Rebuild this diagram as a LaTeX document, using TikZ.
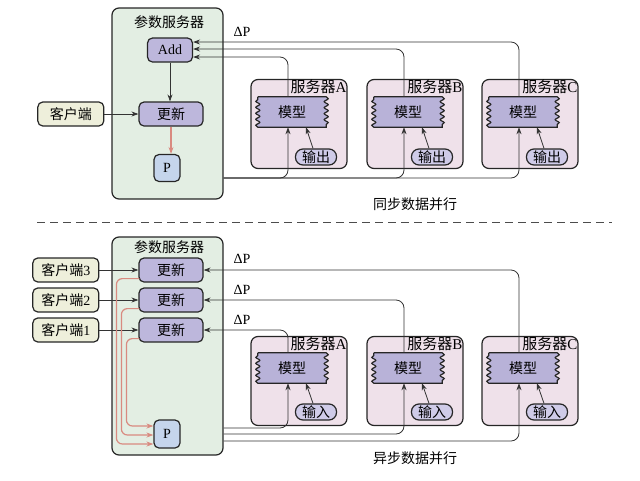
\documentclass[tikz,border=0pt]{standalone}
\usepackage{fontspec}
\setmainfont{Liberation Serif}
\newfontfamily\cjk{Noto Sans CJK SC}
\usetikzlibrary{positioning, arrows.meta, decorations.pathmorphing}
\newcommand{\zh}[1]{{\cjk #1}}

\definecolor{psfill}{HTML}{E3EEE3}
\definecolor{srvfill}{HTML}{EFE1EA}
\definecolor{clifill}{HTML}{EEEFDB}
\definecolor{opfill}{HTML}{BDB7DC}
\definecolor{modelfill}{HTML}{B8B2D8}
\definecolor{pfill}{HTML}{C5D5EC}
\definecolor{pillfill}{HTML}{CFCBE8}
\definecolor{redline}{HTML}{D98A80}

\pgfdeclarelayer{back}
\pgfdeclarelayer{mid}
\pgfsetlayers{back,mid,main}

\tikzset{
  >={Stealth[length=7pt,width=5pt]},
  x=1pt, y=-1pt,
  every node/.style={font=\fontsize{14}{16}\selectfont},
  box/.style={draw=black!85, line width=1.2pt, rounded corners=5pt, inner sep=0pt},
  psbox/.style={box, fill=psfill, rounded corners=7pt, minimum width=111pt},
  srv/.style={box, fill=srvfill, minimum width=96pt, minimum height=89pt, rounded corners=7pt},
  op/.style={box, fill=opfill, minimum width=64pt, minimum height=24pt},
  client/.style={box, fill=clifill, minimum width=66pt, minimum height=24pt},
  pbox/.style={box, fill=pfill, minimum width=26pt, minimum height=27pt},
  model/.style={inner sep=0pt, minimum width=68pt, minimum height=30pt},
  pill/.style={box, fill=pillfill, minimum width=41pt, minimum height=16pt, rounded corners=7.5pt},
  lbl/.style={anchor=north east, inner sep=1pt, font=\fontsize{15}{17}\selectfont},
  wire/.style={draw=black!80, line width=0.8pt, rounded corners=8pt},
  upd/.style={draw=redline, line width=1.2pt, rounded corners=6pt, ->, >={Stealth[length=7pt,width=5pt,fill=redline]}},
  wavy/.style={draw=black!85, line width=1.2pt, fill=modelfill,
    decoration={snake, amplitude=2pt, segment length=6pt}},
  sep/.style={draw=black!70, line width=0.9pt, dash pattern=on 8pt off 5pt},
}

\begin{document}
\begin{tikzpicture}
  \useasboundingbox (0,0) rectangle (640,480);

  % synchronous: parameter server
  \node[psbox, minimum height=191pt] (ps1) at (167.5,103.5) {};
  \node (t1) at (169,22) {\zh{参数服务器}};
  \node[op, minimum width=45pt] (add) at (170,50) {Add};
  \node[op] (upd) at (171,114) {\zh{更新}};
  \node[pbox] (p1) at (167,168) {P};
  \node[client, left=34pt of upd] (cli) {\zh{客户端}};

  % synchronous: servers
  \foreach \s/\x/\n in {a/299/A, b/415/B, c/530/C} {
    \begin{pgfonlayer}{back}
      \node[srv] (s\s1) at (\x,124) {};
    \end{pgfonlayer}
    \node[lbl] (l\s1) at (s\s1.north east) {\zh{服务器}\n};
    \node[model] (m\s1) at (\x-7,112) {\zh{模型}};
    \node[pill] (o\s1) at (\x+17,157) {\zh{输出}};
    \draw[wire,->] ([xshift=-3pt]o\s1.north) -- ([xshift=14pt]m\s1.south);
  }

  % synchronous: transitions
  \draw[wire,->] (cli) -- (upd);
  \draw[wire,->] (add) -- (add |- upd.north);
  \draw[upd] (upd.south) -- (upd.south |- p1.north);
  \node (dp1) at (242,32) {ΔP};
  \draw[wire,<-] ([yshift=8pt]add.east) -| ([xshift=-4pt]mc1.north);
  \draw[wire,<-] ([yshift=1pt]add.east) -| ([xshift=-4pt]mb1.north);
  \draw[wire,<-] ([yshift=-7pt]add.east) -| ([xshift=-4pt]ma1.north);
  \draw[wire,->] ([yshift=-74.5pt]ps1.east) -| ([xshift=-4pt]ma1.south);
  \draw[wire,->] ([yshift=-74.5pt]ps1.east) -| ([xshift=-4pt]mb1.south);
  \draw[wire,->] ([yshift=-74.5pt]ps1.east) -| ([xshift=-4pt]mc1.south);
  \node (cap1) at (415,204) {\zh{同步数据并行}};

  \draw[sep] (37,222) -- (612,222);

  % asynchronous: parameter server
  \node[psbox, minimum height=218pt] (ps2) at (167.5,346) {};
  \node (t2) at (169,247) {\zh{参数服务器}};
  \node[op] (u3) at (171,270) {\zh{更新}};
  \node[op] (u2) at (171,300) {\zh{更新}};
  \node[op] (u1) at (171,330) {\zh{更新}};
  \node[pbox, minimum height=28pt] (p2) at (167,434) {P};
  \node[client, left=39pt of u3] (c3) {\zh{客户端}3};
  \node[client, left=39pt of u2] (c2) {\zh{客户端}2};
  \node[client, left=39pt of u1] (c1) {\zh{客户端}1};

  % asynchronous: servers
  \foreach \s/\x/\n in {a/299/A, b/415/B, c/530/C} {
    \begin{pgfonlayer}{back}
      \node[srv] (s\s2) at (\x,381) {};
    \end{pgfonlayer}
    \node[lbl] (l\s2) at (s\s2.north east) {\zh{服务器}\n};
    \node[model] (m\s2) at (\x-7,368) {\zh{模型}};
    \node[pill] (i\s2) at (\x+17,412) {\zh{输入}};
    \draw[wire,->] ([xshift=-3pt]i\s2.north) -- ([xshift=14pt]m\s2.south);
  }

  % asynchronous: transitions
  \foreach \k in {1,2,3}
    \draw[wire,->] (c\k) -- (u\k);
  \node (dp3) at (242,259) {ΔP};
  \node (dp2) at (242,290) {ΔP};
  \node (dp1b) at (242,320) {ΔP};
  \draw[wire,<-] (u3.east) -| ([xshift=-4pt]mc2.north);
  \draw[wire,<-] (u2.east) -| ([xshift=-4pt]mb2.north);
  \draw[wire,<-] (u1.east) -| ([xshift=-4pt]ma2.north);
  \draw[wire,->] ([yshift=-82pt]ps2.east) -| ([xshift=-4pt]ma2.south);
  \draw[wire,->] ([yshift=-88pt]ps2.east) -| ([xshift=-4pt]mb2.south);
  \draw[wire,->] ([yshift=-95pt]ps2.east) -| ([xshift=-4pt]mc2.south);
  \draw[upd] ([xshift=1pt,yshift=4pt]u3.south west) -| ([xshift=-37pt,yshift=-10pt]p2.west) -- ([yshift=-10pt]p2.west);
  \draw[upd] ([xshift=1pt,yshift=4pt]u2.south west) -| ([xshift=-32pt,yshift=-1pt]p2.west) -- ([yshift=-1pt]p2.west);
  \draw[upd] ([xshift=1pt,yshift=4pt]u1.south west) -| ([xshift=-27pt,yshift=8pt]p2.west) -- ([yshift=8pt]p2.west);
  \node (cap2) at (415,458) {\zh{异步数据并行}};

  % wavy model outlines
  \begin{pgfonlayer}{mid}
    \foreach \m in {ma1,mb1,mc1,ma2,mb2,mc2}
      \draw[wavy] (\m.north west) -- (\m.north east) decorate {-- (\m.south east)}
        -- (\m.south west) decorate {-- (\m.north west)} -- cycle;
  \end{pgfonlayer}
\end{tikzpicture}
\end{document}
